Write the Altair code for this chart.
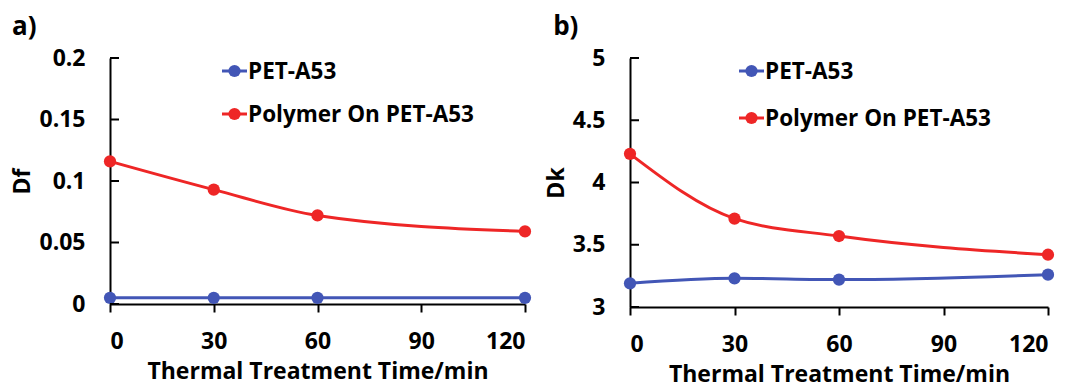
import altair as alt
import pandas as pd

times = [0, 30, 60, 120]
df_pet = [0.005, 0.005, 0.005, 0.005]
df_poly = [0.116, 0.093, 0.072, 0.059]
dk_pet = [3.19, 3.23, 3.22, 3.26]
dk_poly = [4.23, 3.71, 3.57, 3.42]
series = ["PET-A53", "Polymer On PET-A53"]
colors = ["#4256b6", "#ee2626"]
x_ticks = [0, 30, 60, 90, 120]
df_ticks = [0, 0.05, 0.1, 0.15, 0.2]
dk_ticks = [3, 3.5, 4, 4.5, 5]

FONT = "Open Sans"


def panel(pet, poly, ytitle, domain, yticks, letter, width, height, leg_x, leg_rows, title_dx):
    data = pd.DataFrame({
        "time": times * 2,
        "value": pet + poly,
        "series": [series[0]] * len(times) + [series[1]] * len(times),
    })
    xs = alt.Scale(domain=[0, 120], nice=False, zero=False)
    ys = alt.Scale(domain=domain, nice=False, zero=False)
    col = alt.Color("series:N", scale=alt.Scale(domain=series, range=colors), legend=None)
    x = alt.X("time:Q", scale=xs, title="Thermal Treatment Time/min",
              axis=alt.Axis(values=x_ticks, tickSize=8, tickWidth=2, labelPadding=18,
                            titlePadding=7, grid=False))
    y = alt.Y("value:Q", scale=ys, title=ytitle,
              axis=alt.Axis(values=yticks, format="~g", tickSize=0, labelPadding=25,
                            titlePadding=4, grid=False))
    base = alt.Chart(data)
    lines = base.mark_line(interpolate="monotone", strokeWidth=3).encode(x=x, y=y, color=col, detail="series:N")
    pts = base.mark_circle(size=150, opacity=1).encode(x=x, y=y, color=col)
    tickrules = alt.Chart(pd.DataFrame({"value": yticks})).mark_rule(color="black", strokeWidth=2).encode(
        x=alt.value(0), x2=alt.value(9), y=y)
    layers = [lines, pts, tickrules]
    for name, c, yy in zip(series, colors, leg_rows):
        one = alt.Chart(pd.DataFrame({"label": [name]}))
        layers.append(one.mark_rule(color=c, strokeWidth=3).encode(
            x=alt.value(leg_x), x2=alt.value(leg_x + 25), y=alt.value(yy)))
        layers.append(one.mark_circle(color=c, size=150, opacity=1).encode(
            x=alt.value(leg_x + 12.5), y=alt.value(yy)))
        layers.append(one.mark_text(align="left", baseline="middle", font=FONT, fontWeight="bold",
                                    fontSize=22.5, color="black").encode(
            x=alt.value(leg_x + 26), y=alt.value(yy + 1), text="label:N"))
    return alt.layer(*layers).properties(
        width=width, height=height,
        title=alt.TitleParams(letter, anchor="start", frame="bounds", fontSize=26, fontWeight="bold",
                              font=FONT, color="black", offset=7, dx=title_dx),
    )


left = panel(df_pet, df_poly, "Df", [0, 0.2], df_ticks, "a)", 415, 246, 112, [13, 56], 0)
right = panel(dk_pet, dk_poly, "Dk", [3, 5], dk_ticks, "b)", 418, 249, 109, [13, 60], 8)

chart = alt.hconcat(left, right, spacing=105, bounds="flush").properties(
    padding={"left": 3, "top": 6, "right": 0, "bottom": 0}
).configure_view(
    stroke=None
).configure_axis(
    domainColor="black", domainWidth=2, tickColor="black",
    labelFont=FONT, labelFontSize=23, labelFontWeight="bold", labelColor="black",
    titleFont=FONT, titleFontSize=23, titleFontWeight="bold", titleColor="black",
)

chart.save("out.html", embed_options={"renderer": "svg", "actions": False})
